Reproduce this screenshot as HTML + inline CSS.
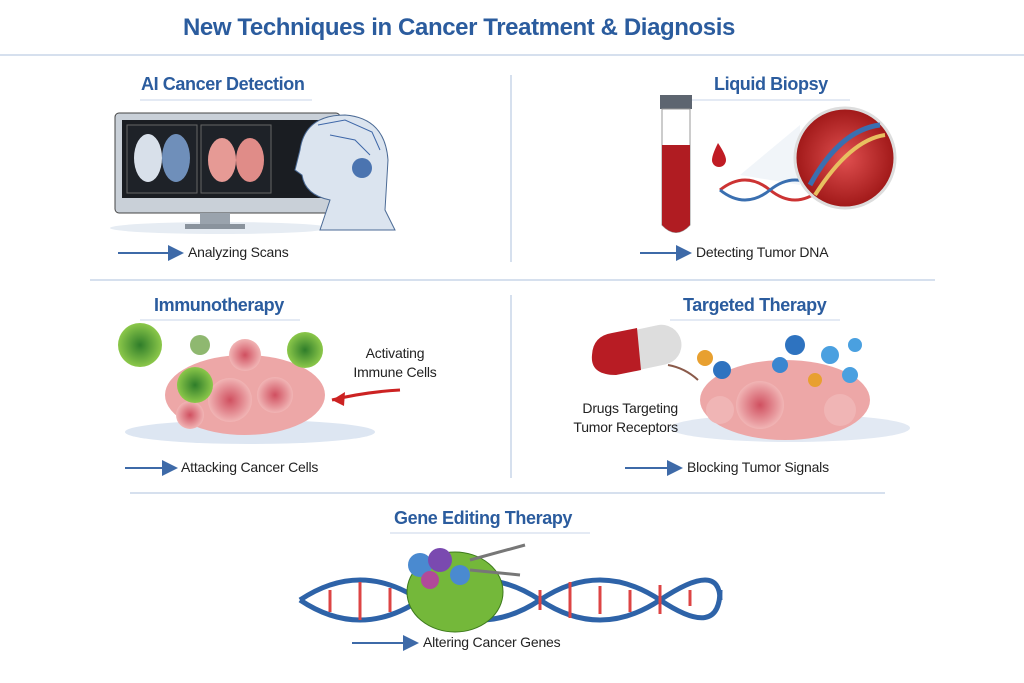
<!DOCTYPE html><html><head><style>
body{margin:0;width:1024px;height:683px;background:#fff;position:relative;overflow:hidden;font-family:"Liberation Sans",sans-serif}
.t{position:absolute;color:#2b5c9e;font-weight:bold;white-space:nowrap;letter-spacing:-0.4px}
.c{position:absolute;font-size:14px;color:#222;white-space:nowrap;letter-spacing:-0.2px}
svg{position:absolute;left:0;top:0}
</style></head><body>
<svg width="1024" height="683">
<defs><marker id="a" markerWidth="8" markerHeight="8" refX="6" refY="4" orient="auto"><path d="M0,0L8,4L0,8z" fill="#3e6aa8"/></marker>
<radialGradient id="pk"><stop offset="0" stop-color="#d05060"/><stop offset="1" stop-color="#f1b5b5"/></radialGradient>
<radialGradient id="rd"><stop offset="0" stop-color="#e05050"/><stop offset="1" stop-color="#a01818"/></radialGradient>
<radialGradient id="gr"><stop offset="0" stop-color="#2f7d2a"/><stop offset="1" stop-color="#8cc84a"/></radialGradient></defs>
<line x1="0" y1="55" x2="1024" y2="55" stroke="#c8d6e8" stroke-width="1.5"/>
<line x1="140" y1="100" x2="312" y2="100" stroke="#c8d6e8"/>
<line x1="690" y1="100" x2="850" y2="100" stroke="#c8d6e8"/>
<line x1="140" y1="320" x2="300" y2="320" stroke="#c8d6e8"/>
<line x1="670" y1="320" x2="840" y2="320" stroke="#c8d6e8"/>
<line x1="390" y1="533" x2="590" y2="533" stroke="#c8d6e8"/>
<line x1="511" y1="75" x2="511" y2="262" stroke="#c8d6e8" stroke-width="1.5"/>
<line x1="511" y1="295" x2="511" y2="478" stroke="#c8d6e8" stroke-width="1.5"/>
<line x1="90" y1="280" x2="935" y2="280" stroke="#c8d6e8" stroke-width="1.5"/>
<line x1="130" y1="493" x2="885" y2="493" stroke="#c8d6e8" stroke-width="1.5"/>
<!-- monitor -->
<ellipse cx="220" cy="228" rx="110" ry="6" fill="#e6ecf3"/>
<rect x="115" y="113" width="225" height="100" rx="4" fill="#c9d0d8" stroke="#444"/>
<rect x="122" y="120" width="211" height="78" fill="#1a1d22"/>
<rect x="127" y="125" width="70" height="68" fill="#1e2228" stroke="#666"/>
<rect x="201" y="125" width="70" height="68" fill="#1e2228" stroke="#666"/>
<ellipse cx="148" cy="158" rx="14" ry="24" fill="#d8e0ea"/><ellipse cx="176" cy="158" rx="14" ry="24" fill="#6f8fba"/>
<ellipse cx="222" cy="160" rx="14" ry="22" fill="#e69a95"/><ellipse cx="250" cy="160" rx="14" ry="22" fill="#e08c88"/>
<rect x="200" y="213" width="30" height="12" fill="#9aa3ad"/><rect x="185" y="224" width="60" height="5" fill="#8a939d"/>
<!-- robot -->
<path d="M300,150 Q305,115 345,115 Q385,118 388,160 L385,210 L395,230 L320,230 L330,200 Q305,195 302,175 L295,170z" fill="#dbe4ef" stroke="#4b6a95"/>
<circle cx="362" cy="168" r="10" fill="#4b74b0"/>
<path d="M318,125 L345,120 L372,132 L380,150 M330,135 L355,140 L370,155" stroke="#3e67a8" fill="none"/>
<!-- liquid biopsy -->
<rect x="660" y="95" width="32" height="14" fill="#5d6570"/>
<path d="M662,109 L690,109 L690,225 Q676,240 662,225z" fill="#fff" stroke="#999"/>
<path d="M662,145 L690,145 L690,225 Q676,240 662,225z" fill="#b01c22"/>
<path d="M718,143 Q712,155 712,160 A7,7 0 0 0 726,160 Q726,155 718,143z" fill="#c01c24"/>
<path d="M740,175 L800,125 L800,185z" fill="#eef2f7" opacity="0.8"/>
<path d="M720,190 Q745,170 770,190 T820,190" stroke="#c33" stroke-width="3" fill="none"/><path d="M720,190 Q745,210 770,190 T820,190" stroke="#3a6fb0" stroke-width="3" fill="none"/>
<circle cx="845" cy="158" r="50" fill="url(#rd)" stroke="#ddd" stroke-width="3"/>
<path d="M810,185 Q840,130 880,125" stroke="#3a6fb0" stroke-width="5" fill="none"/><path d="M815,195 Q850,140 885,135" stroke="#e8c060" stroke-width="4" fill="none"/>
<!-- immunotherapy -->
<ellipse cx="250" cy="432" rx="125" ry="12" fill="#dde6f2"/>
<ellipse cx="245" cy="395" rx="80" ry="40" fill="#eda7a7"/>
<circle cx="230" cy="400" r="22" fill="url(#pk)"/><circle cx="275" cy="395" r="18" fill="url(#pk)"/><circle cx="190" cy="415" r="14" fill="url(#pk)"/><circle cx="245" cy="355" r="16" fill="url(#pk)"/>
<circle cx="140" cy="345" r="22" fill="url(#gr)"/><circle cx="195" cy="385" r="18" fill="url(#gr)"/><circle cx="305" cy="350" r="18" fill="url(#gr)"/><circle cx="200" cy="345" r="10" fill="#8fb870"/>
<path d="M400,390 Q365,392 332,400" stroke="#c22" stroke-width="3" fill="none"/><path d="M332,400 L345,392 L344,406z" fill="#c22"/>
<!-- targeted -->
<ellipse cx="790" cy="428" rx="120" ry="14" fill="#e2e9f3"/>
<ellipse cx="785" cy="400" rx="85" ry="40" fill="#eda7a7"/>
<circle cx="760" cy="405" r="24" fill="url(#pk)"/><circle cx="720" cy="410" r="14" fill="#f0b5b5"/><circle cx="840" cy="410" r="16" fill="#f0b5b5"/>
<rect x="592" y="330" width="90" height="40" rx="20" fill="#ddd" transform="rotate(-12 637 350)"/>
<path d="M612,333 L637,328 L641,370 L616,375 Q590,375 592,355 Q593,336 612,333z" fill="#b81c24"/>
<path d="M668,365 Q685,368 698,380" stroke="#8a5a4a" stroke-width="2" fill="none"/>
<circle cx="705" cy="358" r="8" fill="#e8a030"/><circle cx="722" cy="370" r="9" fill="#2e73c0"/><circle cx="795" cy="345" r="10" fill="#2e73c0"/><circle cx="780" cy="365" r="8" fill="#3b86d0"/><circle cx="830" cy="355" r="9" fill="#4aa0e0"/><circle cx="850" cy="375" r="8" fill="#4aa0e0"/><circle cx="855" cy="345" r="7" fill="#4aa0e0"/><circle cx="815" cy="380" r="7" fill="#e8a030"/>
<!-- gene -->
<path d="M300,600 Q360,560 420,600 T540,600 T660,600 T720,590" stroke="#2e63a8" stroke-width="5" fill="none"/>
<path d="M300,600 Q360,640 420,600 T540,600 T660,600 T720,600" stroke="#2e63a8" stroke-width="5" fill="none"/>
<path d="M330,590 L330,612 M360,582 L360,620 M390,588 L390,612 M540,590 L540,610 M570,582 L570,618 M600,586 L600,614 M630,590 L630,612 M660,585 L660,614 M690,590 L690,606" stroke="#d44" stroke-width="3"/>
<ellipse cx="455" cy="592" rx="48" ry="40" fill="#74b83a" stroke="#3d7a1c"/>
<circle cx="420" cy="565" r="12" fill="#4a8ad0"/><circle cx="440" cy="560" r="12" fill="#7a4ab0"/><circle cx="460" cy="575" r="10" fill="#4a8ad0"/><circle cx="430" cy="580" r="9" fill="#b04a9a"/>
<path d="M470,560 L525,545 M470,570 L520,575" stroke="#777" stroke-width="3"/>
<g stroke="#3e6aa8" stroke-width="2" marker-end="url(#a)">
<line x1="118" y1="253" x2="180" y2="253"/><line x1="640" y1="253" x2="688" y2="253"/>
<line x1="125" y1="468" x2="174" y2="468"/><line x1="625" y1="468" x2="679" y2="468"/>
<line x1="352" y1="643" x2="415" y2="643"/></g>
</svg>
<div class="t" style="left:183px;top:14px;font-size:24px">New Techniques in Cancer Treatment &amp; Diagnosis</div>
<div class="t" style="left:141px;top:74px;font-size:18px">AI Cancer Detection</div>
<div class="t" style="left:714px;top:74px;font-size:18px">Liquid Biopsy</div>
<div class="t" style="left:154px;top:295px;font-size:18px">Immunotherapy</div>
<div class="t" style="left:683px;top:295px;font-size:18px">Targeted Therapy</div>
<div class="t" style="left:394px;top:508px;font-size:18px">Gene Editing Therapy</div>
<div class="c" style="left:188px;top:244px">Analyzing Scans</div>
<div class="c" style="left:696px;top:244px">Detecting Tumor DNA</div>
<div class="c" style="left:181px;top:459px">Attacking Cancer Cells</div>
<div class="c" style="left:687px;top:459px">Blocking Tumor Signals</div>
<div class="c" style="left:423px;top:634px">Altering Cancer Genes</div>
<div class="c" style="left:340px;top:344px;width:110px;text-align:center;line-height:19px">Activating<br>Immune Cells</div>
<div class="c" style="left:560px;top:399px;width:118px;text-align:right;line-height:19px">Drugs Targeting<br>Tumor Receptors</div>
</body></html>
